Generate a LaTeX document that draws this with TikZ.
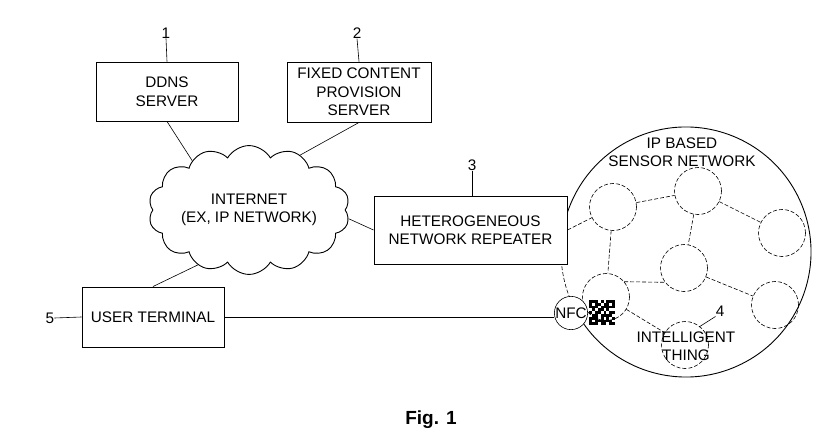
\documentclass[tikz,border=0pt]{standalone}
\usepackage{fontspec}
\setmainfont{Liberation Sans}
\usetikzlibrary{shapes.symbols}
\newcommand\lblfont{\fontsize{15.3}{18.5}\selectfont}
\tikzset{
  box/.style={draw, line width=0.95pt, fill=white, inner sep=0pt, align=center, font=\lblfont},
  thin conn/.style={line width=0.6pt},
  sc/.style={circle, draw, dash pattern=on 4pt off 2pt, line width=0.6pt, minimum size=47pt, inner sep=0pt},
  dconn/.style={dash pattern=on 4pt off 2pt, line width=0.6pt},
  txt/.style={font=\lblfont, align=center, inner sep=0pt},
}
\begin{document}
\begin{tikzpicture}[x=1pt,y=-1pt]
\useasboundingbox (0,0) rectangle (832,441);
% big circle
\node[circle, minimum size=250pt, inner sep=0pt, outer sep=0pt] (big) at (686,252) {};
\draw[line width=0.9pt] (big.205) arc[start angle=205, end angle=530, radius=125pt];
\draw[dconn] (big.170) arc[start angle=170, end angle=205, radius=125pt];
% sensor nodes
\node[sc] (A) at (613,207) {};
\node[sc] (B) at (698,191) {};
\node[sc] (C) at (782,233) {};
\node[sc] (D) at (684,268) {};
\node[sc] (E) at (606,297) {};
\node[sc] (F) at (775,305) {};
\node[sc] (G) at (685,345) {};
\draw[dconn] (A) -- (B);
\draw[dconn] (B) -- (C);
\draw[dconn] (B) -- (D);
\draw[dconn] (A) -- (E);
\draw[dconn] (E.40) -- (D.217);
\draw[dconn] (D) -- (F);
\draw[dconn] (E) -- (G);
% texts in circle
\node[txt] (ipb) at (682,152) {IP BASED\\SENSOR NETWORK};
\node[txt] (thing) at (686,346) {INTELLIGENT\\THING};
\node[txt] (l4) at (720,311) {4};
\coordinate (l4end) at (699,327);
\draw[thin conn] (l4.south west) -- (l4end);
% QR code
\begin{scope}[shift={(589,300)}]
\foreach \row [count=\r from 0] in {{1,1,1,0,1,0,1,1,1},{1,0,1,1,0,1,1,0,1},{1,1,1,0,1,1,1,1,1},{0,1,0,1,1,0,1,0,0},{1,0,1,1,0,1,0,1,1},{0,1,1,0,1,1,1,1,0},{1,1,1,0,1,0,1,0,1},{1,0,1,1,1,1,1,1,0},{1,1,1,0,1,1,0,1,1}}{
  \foreach \b [count=\c from 0] in \row {
    \ifnum\b=1 \fill (\c*2.9,\r*2.8) rectangle ++(2.9,2.8);\fi
  }
}
\end{scope}
% NFC
\node[circle, draw, line width=0.6pt, fill=white, minimum size=32pt, inner sep=0pt, font=\lblfont] (nfc) at (571,313) {NFC};
% boxes
\node[box, minimum width=142pt, minimum height=59pt] (ddns) at (167,91.5) {DDNS\\SERVER};
\node[box, minimum width=144pt, minimum height=60pt] (fix) at (359,92) {FIXED CONTENT\\PROVISION\\SERVER};
\node[box, minimum width=193pt, minimum height=68pt] (rep) at (470.5,230) {HETEROGENEOUS\\NETWORK REPEATER};
\node[box, minimum width=142pt, minimum height=60pt] (term) at (153,317) {USER TERMINAL};
% cloud
\node[cloud, draw, line width=0.9pt, cloud puffs=14, cloud puff arc=120, aspect=1.8, minimum width=180pt, minimum height=98pt, inner sep=0pt, align=center, font=\lblfont] (net) at (249,210) {INTERNET\\(EX, IP NETWORK)};
% connectors
\draw[thin conn] (ddns.south) -- (net.139);
\draw[thin conn] (fix.south) -- (net.47);
\draw[thin conn] (net.-5) -- (rep.west);
\draw[thin conn] (term.north) -- (net.227);
\draw[line width=0.8pt] (term.east) -- (nfc.west |- term.east);
\draw[dconn] (rep.east) -- (A);
% reference labels
\node[txt] (l1) at (166,33) {1};
\draw[thin conn] (l1.south) -- (ddns.north);
\node[txt] (l2) at (357,33) {2};
\draw[thin conn] (l2.south) -- (fix.north);
\node[txt] (l3) at (472,165) {3};
\draw[thin conn] (l3.south) -- (rep.north -| l3.south);
\node[txt] (l5) at (50,318) {5};
\draw[thin conn] (l5.east) -- (term.west);
% caption
\node[font=\fontsize{19}{22}\selectfont\bfseries, inner sep=0pt] (cap) at (431,420) {Fig. 1};
\end{tikzpicture}
\end{document}
